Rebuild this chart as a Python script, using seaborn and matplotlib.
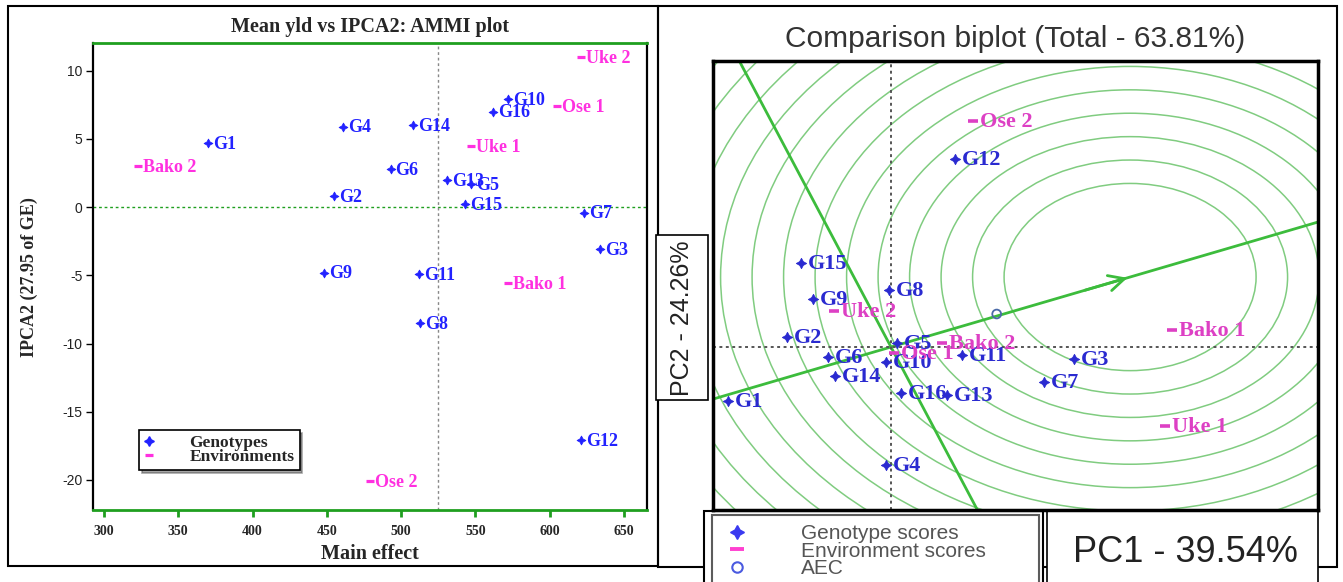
import numpy as np
import pandas as pd
import matplotlib
matplotlib.use("Agg")
import matplotlib.pyplot as plt
import seaborn as sns
from matplotlib.patches import Rectangle, Circle
from matplotlib.lines import Line2D

# ---------------- data ----------------
genotypes = [f"G{i}" for i in range(1, 17)]
environments = ["Bako 1", "Bako 2", "Uke 1", "Uke 2", "Ose 1", "Ose 2"]

# Left panel: AMMI (main effect vs IPCA2)
gen_main = [370, 455, 634, 461, 547, 493, 623, 513, 448, 572, 512, 621, 531, 508, 543, 562]
gen_ipca2 = [4.7, 0.8, -3.1, 5.9, 1.7, 2.8, -0.4, -8.5, -4.8, 7.9, -4.9, -17.1, 2.0, 6.0, 0.25, 7.0]
env_main = [572, 323, 547, 621, 605, 479]
env_ipca2 = [-5.6, 3.0, 4.5, 11.0, 7.4, -20.1]
grand_mean = 525
left_xticks = [300, 350, 400, 450, 500, 550, 600, 650]
left_yticks = [-20, -15, -10, -5, 0, 5, 10]

# Right panel: GGE comparison biplot (PC1 vs PC2 scores)
gen_pc1 = [-5.17, -3.30, 5.81, -0.16, 0.19, -2.00, 4.86, -0.06, -2.48, -0.16, 2.25, 2.03, 1.78, -1.78, -2.86, 0.32]
gen_pc2 = [-2.31, 0.43, -0.51, -5.04, 0.17, -0.43, -1.50, 2.44, 2.05, -0.64, -0.34, 8.03, -2.05, -1.24, 3.59, -1.97]
env_pc1 = [8.92, 1.62, 8.70, -1.81, 0.10, 2.60]
env_pc2 = [0.73, 0.17, -3.38, 1.54, -0.26, 9.66]
ideal_point = [7.59, 2.99]
ring_radii = list(range(4, 18))

# ---------------- style ----------------
sns.set_style("white")
plt.rcParams["font.family"] = ["Liberation Sans", "DejaVu Sans"]
SERIF = ["Liberation Serif", "DejaVu Serif"]

BLUE_L, PINK_L = "#2222ff", "#ff30e0"
BLUE_R, PINK_R = "#2a2ad0", "#dd40c4"
GREEN_FRAME = "#1f9f1f"
RING = "#80cc80"
AEC_GREEN = "#3cbc3c"

W, H = 1343, 582
fig = plt.figure(figsize=(W / 100, H / 100), dpi=100)


def fbox(x0, y0, x1, y1):
    return [x0 / W, 1 - y1 / H, (x1 - x0) / W, (y1 - y0) / H]


# overlay for panel borders and label boxes (drawn first)
ov = fig.add_axes([0, 0, 1, 1])
ov.set_xlim(0, W)
ov.set_ylim(H, 0)
ov.axis("off")
ov.add_patch(Rectangle((7.6, 6), 650.4, 560, fill=False, ec="black", lw=1.5))
ov.add_patch(Rectangle((658, 6), 679, 561, fill=False, ec="black", lw=1.5))
ov.add_patch(Rectangle((656, 235), 52, 165, fc="white", ec="black", lw=1.2))
ov.add_patch(Rectangle((1047, 510), 271, 80, fc="white", ec="black", lw=1.2))
ov.add_patch(Rectangle((704, 511), 339, 80, fc="white", ec="black", lw=1.5))

# ---------------- left panel ----------------
ax1 = fig.add_axes(fbox(93.4, 43.3, 647, 510))
df_g = pd.DataFrame({"name": genotypes, "main": gen_main, "ipca2": gen_ipca2})
df_e = pd.DataFrame({"name": environments, "main": env_main, "ipca2": env_ipca2})
star4 = (4, 1, 0)

ax1.axhline(0, color=GREEN_FRAME, ls=(0, (2, 2)), lw=1.0, zorder=1)
ax1.axvline(grand_mean, color="#888888", ls=(0, (2, 2)), lw=1.0, zorder=1)
sns.scatterplot(data=df_g, x="main", y="ipca2", marker=star4, s=40, color=BLUE_L,
                edgecolor=BLUE_L, linewidth=0.6, ax=ax1, zorder=3, legend=False)
sns.scatterplot(data=df_e, x="main", y="ipca2", marker="_", s=30, color=PINK_L,
                linewidth=2.3, ax=ax1, zorder=3, legend=False)
for n, x, y in zip(df_g["name"], df_g["main"], df_g["ipca2"]):
    ax1.annotate(n, (x, y), xytext=(3.5, -1), textcoords="offset points", ha="left",
                 va="center", color=BLUE_L, fontsize=13, fontweight="bold", family=SERIF)
for n, x, y in zip(df_e["name"], df_e["main"], df_e["ipca2"]):
    ax1.annotate(n, (x, y), xytext=(3.5, -1), textcoords="offset points", ha="left",
                 va="center", color=PINK_L, fontsize=13, fontweight="bold", family=SERIF)

ax1.set_xlim(292.9, 665.5)
ax1.set_ylim(-22.2, 12.0)
ax1.set_xticks(left_xticks)
ax1.set_yticks(left_yticks)
ax1.set_xticklabels([str(v) for v in left_xticks], family=SERIF, fontweight="bold", fontsize=10)
ax1.set_yticklabels([str(v) for v in left_yticks], fontsize=10, color="#222222")
ax1.tick_params(axis="x", which="both", direction="out", length=5, width=2, color=GREEN_FRAME, pad=6, bottom=True)
ax1.tick_params(axis="y", which="both", direction="out", length=5, width=1, color="black", pad=3, left=True)
for side in ["top", "bottom"]:
    ax1.spines[side].set_color(GREEN_FRAME)
    ax1.spines[side].set_linewidth(2)
for side in ["left", "right"]:
    ax1.spines[side].set_color("black")
    ax1.spines[side].set_linewidth(1.6)
ax1.set_title("Mean yld vs IPCA2: AMMI plot", family=SERIF, fontweight="bold", fontsize=14.5, pad=8)
ax1.set_xlabel("Main effect", family=SERIF, fontweight="bold", fontsize=14.5)
ax1.set_ylabel("IPCA2 (27.95 of GE)", family=SERIF, fontweight="bold", fontsize=13)
ax1.xaxis.set_label_coords(0.5, -0.072)
ax1.yaxis.set_label_coords(-0.1, 0.5)

h1 = [Line2D([], [], ls="none", marker=star4, ms=7, color=BLUE_L, mec=BLUE_L),
      Line2D([], [], ls="none", marker="_", ms=6, mew=2.3, color=PINK_L)]
leg1 = ax1.legend(h1, ["Genotypes", "Environments"], loc="upper left",
                  bbox_to_anchor=(139 / W, 1 - 430 / H), bbox_transform=fig.transFigure,
                  borderaxespad=0, frameon=True, fancybox=False, shadow=True,
                  handlelength=0.6, handletextpad=2.0, borderpad=0.3, labelspacing=-0.15,
                  prop={"family": SERIF, "weight": "bold", "size": 12.5})
leg1.get_frame().set_edgecolor("black")
leg1.get_frame().set_linewidth(1.2)

# ---------------- right panel ----------------
ax2 = fig.add_axes(fbox(713, 61, 1318, 510))
x_lo, x_hi = (713 - 891) / 31.5, (1318 - 891) / 31.5
y_lo, y_hi = (347 - 510) / 23.4, (347 - 61) / 23.4

for r in ring_radii:
    ax2.add_patch(Circle(ideal_point, r, fill=False, ec=RING, lw=1.1, zorder=1))
ax2.axline((0, 0), ideal_point, color=AEC_GREEN, lw=2, zorder=2)
ax2.axline((0, 0), (-ideal_point[1], ideal_point[0]), color=AEC_GREEN, lw=2, zorder=2)
ax2.annotate("", xy=ideal_point, xytext=(ideal_point[0] * 0.8, ideal_point[1] * 0.8),
             arrowprops=dict(arrowstyle="->", color=AEC_GREEN, lw=2, mutation_scale=28), zorder=2)
ax2.axhline(0, color="#555555", ls=(0, (1.5, 1.8)), lw=1.4, zorder=2)
ax2.axvline(0, color="#555555", ls=(0, (1.5, 1.8)), lw=1.4, zorder=2)

df_g2 = pd.DataFrame({"name": genotypes, "pc1": gen_pc1, "pc2": gen_pc2})
df_e2 = pd.DataFrame({"name": environments, "pc1": env_pc1, "pc2": env_pc2})
aec = pd.DataFrame({"pc1": [df_e2["pc1"].mean()], "pc2": [df_e2["pc2"].mean()]})

sns.scatterplot(data=df_g2, x="pc1", y="pc2", marker=star4, s=55, color=BLUE_R,
                edgecolor=BLUE_R, linewidth=0.6, ax=ax2, zorder=4, legend=False)
sns.scatterplot(data=df_e2, x="pc1", y="pc2", marker="_", s=50, color=PINK_R,
                linewidth=2.6, ax=ax2, zorder=4, legend=False)
sns.scatterplot(data=aec, x="pc1", y="pc2", marker="o", s=40, facecolor="none",
                edgecolor="#4a6aa8", linewidth=1.3, ax=ax2, zorder=4, legend=False)
for n, x, y in zip(df_g2["name"], df_g2["pc1"], df_g2["pc2"]):
    ax2.annotate(n, (x, y), xytext=(5, -1), textcoords="offset points", ha="left",
                 va="center", color=BLUE_R, fontsize=16, fontweight="bold", family=SERIF, zorder=5)
for n, x, y in zip(df_e2["name"], df_e2["pc1"], df_e2["pc2"]):
    ax2.annotate(n, (x, y), xytext=(5, -1), textcoords="offset points", ha="left",
                 va="center", color=PINK_R, fontsize=16, fontweight="bold", family=SERIF, zorder=5)

ax2.set_xlim(x_lo, x_hi)
ax2.set_ylim(y_lo, y_hi)
ax2.set_xticks([])
ax2.set_yticks([])
for s in ax2.spines.values():
    s.set_color("black")
    s.set_linewidth(2.5)
ax2.set_title("Comparison biplot (Total - 63.81%)", fontsize=21.5, color="#333333", pad=10)
ax2.set_xlabel("PC1 - 39.54%", fontsize=26, color="#222222")
ax2.xaxis.label.set_va("center")
ax2.xaxis.set_label_coords((1185 - 713) / 605, -(553 - 510) / 449)
ax2.set_ylabel("PC2 - 24.26%", fontsize=18, color="#222222")
ax2.yaxis.label.set_va("center")
ax2.yaxis.set_label_coords((682 - 713) / 605, (510 - 318) / 449)

h2 = [Line2D([], [], ls="none", marker=star4, ms=10, color="#3a3af0", mec="#3a3af0"),
      Line2D([], [], ls="none", marker="_", ms=10, mew=2.8, color="#ff40d0"),
      Line2D([], [], ls="none", marker="o", ms=7.5, mfc="none", mec="#4a5ae0", mew=1.5)]
leg_top = 1 - 515 / H
leg2 = ax2.legend(h2, ["Genotype scores", "Environment scores", "AEC"], loc="upper left",
                  bbox_to_anchor=(712 / W, leg_top - 0.3, (1039 - 712) / W, 0.3),
                  bbox_transform=fig.transFigure, mode="expand", borderaxespad=0,
                  frameon=True, fancybox=False, handlelength=1.5, handletextpad=2.3,
                  borderpad=0.45, labelspacing=-0.08, fontsize=15, labelcolor="#555555")
leg2.get_frame().set_edgecolor("#333333")
leg2.get_frame().set_linewidth(1.5)

fig.savefig("out.png", dpi=100)
